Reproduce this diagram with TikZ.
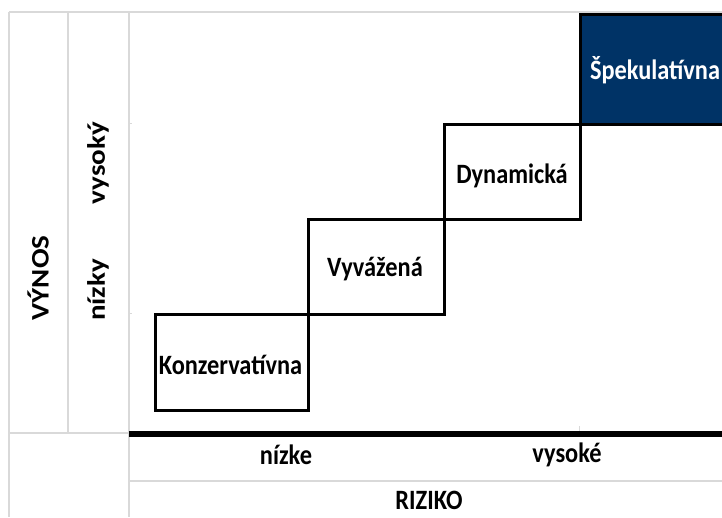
\documentclass[tikz,border=0pt]{standalone}
\usepackage{fontspec}
\setmainfont{Carlito}
\usepackage{graphicx}
\definecolor{gridgray}{RGB}{217,217,217}
\definecolor{navy}{RGB}{0,51,102}
\newcommand{\hsq}[1]{\scalebox{0.87}[1]{#1}}
\newcommand{\vsq}[1]{\scalebox{1}[0.87]{#1}}
\tikzset{
  grid/.style={draw=gridgray, line width=1.2pt},
  tickmark/.style={draw=gridgray, line width=1pt},
  riskbox/.style={draw=black, line width=3pt, inner sep=0pt, anchor=north west},
  lbl/.style={inner sep=0pt, font=\fontsize{28}{30}\selectfont\bfseries},
  vlbl/.style={inner sep=0pt, rotate=90, font=\fontsize{29}{31}\selectfont\bfseries},
}
\begin{document}
\begin{tikzpicture}[x=1pt,y=-1pt]
\useasboundingbox (0,0) rectangle (722,517);
% light grid
\draw[grid] (9,12) -- (722,12);
\draw[grid] (9,12) -- (9,517);
\draw[grid] (68,12) -- (68,433);
\draw[grid] (129,12) -- (129,517);
\draw[grid] (9,433) -- (129,433);
\draw[grid] (129,481) -- (722,481);
\draw[tickmark] (129,123) -- (132,123);
\draw[tickmark] (129,313) -- (132,313);
\draw[tickmark] (579,426) -- (579,431);
% boxes
\node[riskbox, minimum width=153pt, minimum height=96pt] (kon) at (154,313) {};
\node[riskbox, minimum width=136pt, minimum height=95pt] (vyv) at (307,218) {};
\node[riskbox, minimum width=136pt, minimum height=95pt] (dyn) at (443,123) {};
\node[riskbox, fill=navy, minimum width=160pt, minimum height=110pt] (spe) at (579,13) {};
% box texts
\node[lbl] (tkon) at (230.5,365) {\hsq{Konzervatívna}};
\node[lbl] (tvyv) at (375,269) {\hsq{Vyvážená}};
\node[lbl] (tdyn) at (512,176) {\hsq{Dynamická}};
\node[lbl, text=white] (tspe) at (655,70) {\hsq{Špekulatívna}};
% axis
\draw[line width=6pt] (129,434) -- (722,434);
% labels
\node[vlbl] (vynos) at (38,278) {\vsq{VÝNOS}};
\node[vlbl] (nizky) at (98,290) {\vsq{nízky}};
\node[vlbl] (vysoky) at (98,163) {\vsq{vysoký}};
\node[lbl] (nizke) at (286,455) {\hsq{nízke}};
\node[lbl] (vysoke) at (567,455) {\hsq{vysoké}};
\node[lbl] (riziko) at (429,500) {\hsq{RIZIKO}};
\end{tikzpicture}
\end{document}
